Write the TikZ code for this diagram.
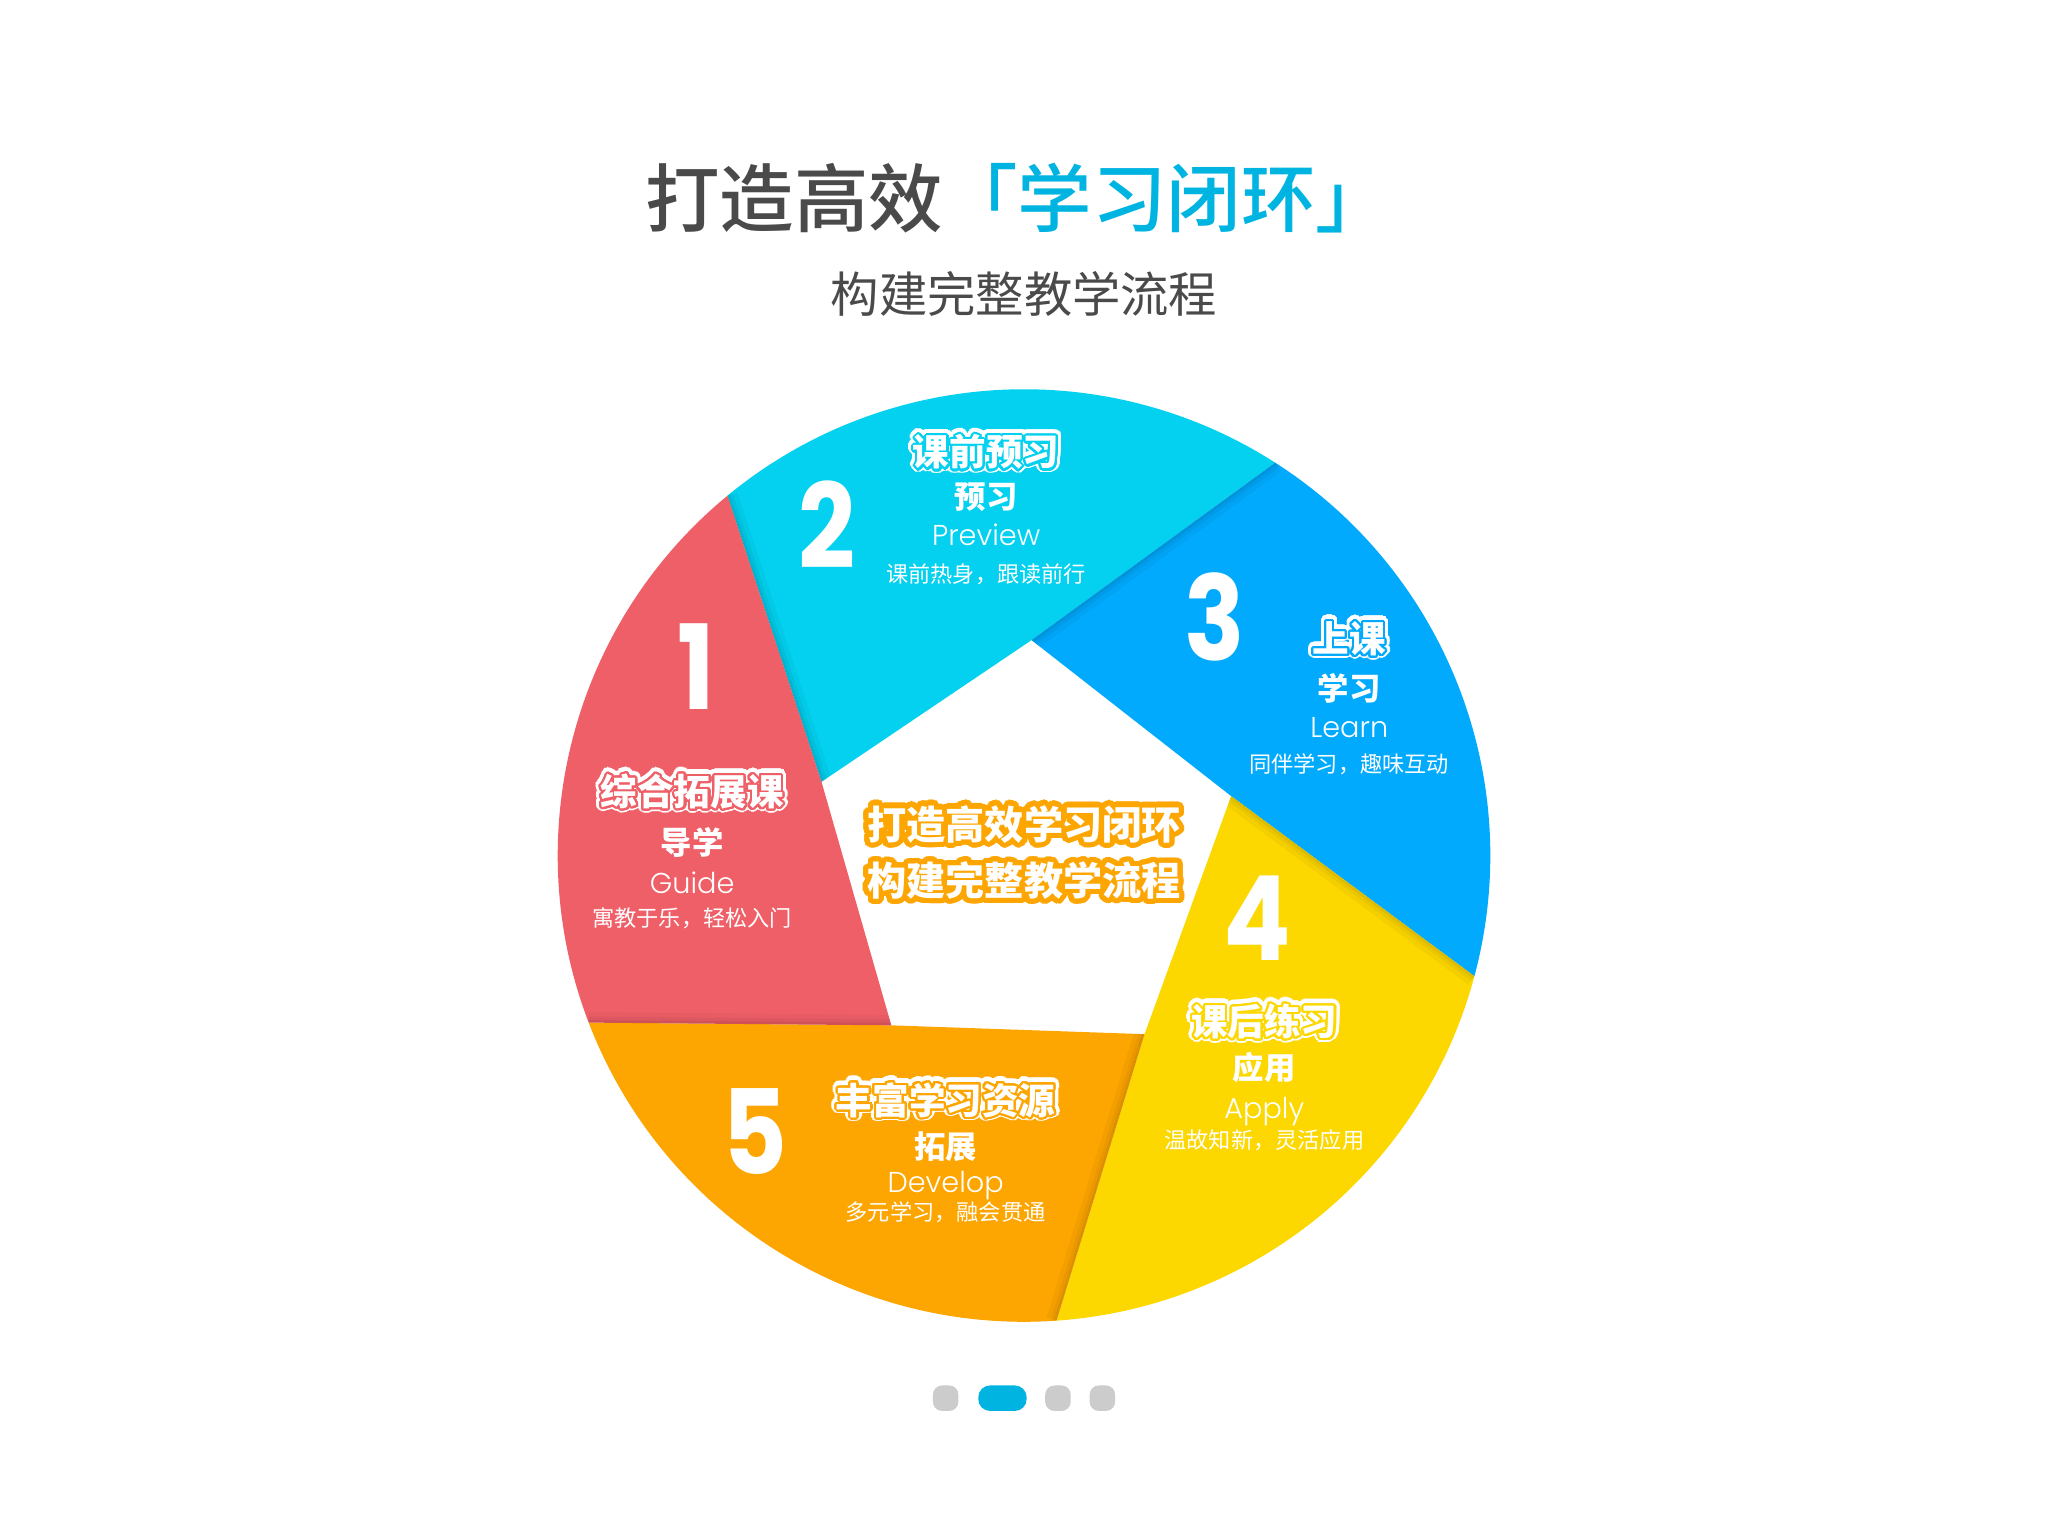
\documentclass[tikz,border=0pt]{standalone}
\usepackage{fontspec}
\setmainfont{Noto Sans CJK SC}
\newfontfamily\cjk{Noto Sans CJK SC}
\IfFontExistsTF{Noto Sans CJK SC Medium}
  {\newfontfamily\cjkmed{Noto Sans CJK SC Medium}}
  {\newfontfamily\cjkmed{Noto Sans CJK SC}[FakeBold=0.8]}
\newfontfamily\lat{Poppins}
\IfFontExistsTF{Poppins Light}
  {\newfontfamily\latlight{Poppins Light}}
  {\newfontfamily\latlight{Poppins}}
\usepackage{contour}
\contournumber{32}
\definecolor{segred}{HTML}{EF5F68}
\definecolor{segcyan}{HTML}{03D1EF}
\definecolor{segblue}{HTML}{02AAFD}
\definecolor{segyellow}{HTML}{FDD700}
\definecolor{segorange}{HTML}{FDA501}
\definecolor{titlegray}{HTML}{4A4A4A}
\definecolor{titlecyan}{HTML}{00B4E1}
\definecolor{dotgray}{HTML}{CCCCCC}
\tikzset{
  pcyan/.style={insert path={(160:165) -- (88:165) -- (57.4:357) arc[start angle=57.4,end angle=129.5,radius=357] -- cycle}},
  pblue/.style={insert path={(88:165) -- (16:165) -- (-15:357) arc[start angle=-15,end angle=57.4,radius=357] -- cycle}},
  pyellow/.style={insert path={(16:165) -- (-56:165) -- (-86:357) arc[start angle=-86,end angle=-15,radius=357] -- cycle}},
  porange/.style={insert path={(-56:165) -- (-128:165) -- (-159:357) arc[start angle=-159,end angle=-86,radius=357] -- cycle}},
  pred/.style={insert path={(-128:165) -- (-200:165) -- (-230.5:357) arc[start angle=-230.5,end angle=-159,radius=357] -- cycle}},
  shA/.style={line width=16, black, opacity=0.035, line cap=butt},
  shB/.style={line width=9, black, opacity=0.045, line cap=butt},
  shC/.style={line width=4, black, opacity=0.055, line cap=butt},
  ttl/.style={inner sep=0pt, font=\cjkmed\fontsize{57}{60}\selectfont},
  subttl/.style={inner sep=0pt, text=titlegray, font=\cjk\fontsize{37}{40}\selectfont},
  digit/.style={inner sep=0pt, text=white, font=\lat\bfseries\fontsize{90}{90}\selectfont},
  hd/.style={inner sep=0pt, text=white, font=\cjk\bfseries\fontsize{28}{30}\selectfont},
  line2/.style={inner sep=0pt, text=white, font=\cjk\bfseries\fontsize{24}{26}\selectfont},
  eng/.style={inner sep=0pt, anchor=base, text=white, font=\latlight\fontsize{22}{24}\selectfont},
  desc/.style={inner sep=0pt, text=white, font=\cjk\fontsize{17}{19}\selectfont},
  ctr/.style={inner sep=0pt, text=white, font=\cjk\bfseries\fontsize{30}{32}\selectfont},
  dotbox/.style={fill=dotgray, minimum width=19.5, minimum height=19.5, inner sep=0pt, rounded corners=7},
}
\newcommand\ringtext[4]{%
  \node[hd] (#1h) at #2 {\contourlength{4pt}\contour{white}{#4}};
  \node[hd] (#1) at #2 {\contourlength{1.6pt}\contour{#3}{#4}};
}
\newcommand\dg[1]{\scalebox{0.85}[1]{#1}}
\begin{document}
\begin{tikzpicture}[x=1pt,y=1pt]
\useasboundingbox (0,0) rectangle (1568,1176);
\fill[white] (0,0) rectangle (1568,1176);

% title
\node[ttl, anchor=west] (title) at (494,1024) {{\color{titlegray}打造高效}{\color{titlecyan}「学习闭环」}};
\node[subttl] (subtitle) at (784,951) {构建完整教学流程};

% wheel
\begin{scope}[shift={(784,521)}]
  \fill[segcyan][pcyan];
  \fill[segblue][pblue];
  \fill[segyellow][pyellow];
  \fill[segorange][porange];
  \fill[segred][pred];
  % shadows
  \begin{scope}\clip[pblue];
    \draw[shA] (88:165) -- (57.4:357); \draw[shB] (88:165) -- (57.4:357); \draw[shC] (88:165) -- (57.4:357);
  \end{scope}
  \begin{scope}\clip[pyellow];
    \draw[shA] (16:165) -- (-15:357); \draw[shB] (16:165) -- (-15:357); \draw[shC] (16:165) -- (-15:357);
  \end{scope}
  \begin{scope}\clip[porange];
    \draw[shA] (-56:165) -- (-86:357); \draw[shB] (-56:165) -- (-86:357); \draw[shC] (-56:165) -- (-86:357);
  \end{scope}
  \begin{scope}\clip[pred];
    \draw[shA] (-128:165) -- (-159:357); \draw[shB] (-128:165) -- (-159:357); \draw[shC] (-128:165) -- (-159:357);
  \end{scope}
  \begin{scope}\clip[pcyan];
    \draw[shA] (160:165) -- (129.5:357); \draw[shB] (160:165) -- (129.5:357); \draw[shC] (160:165) -- (129.5:357);
  \end{scope}
\end{scope}

% center text
\node[ctr] (c1) at (784,543) {\contourlength{4pt}\contour{segorange}{打造高效学习闭环}};
\node[ctr] (c2) at (784,500) {\contourlength{4pt}\contour{segorange}{构建完整教学流程}};

% segment 1
\node[digit] (n1) at (533,666) {\dg{1}};
\ringtext{h1}{(530,569)}{segred}{综合拓展课}
\node[line2] (l1) at (530,531) {导学};
\node[eng] (e1) at (530,492) {Guide};
\node[desc] (s1) at (530,473) {寓教于乐，轻松入门};

% segment 2
\node[digit] (n2) at (633,774) {\dg{2}};
\ringtext{h2}{(755,829)}{segcyan}{课前预习}
\node[line2] (l2) at (755,795) {预习};
\node[eng] (e2) at (755,758) {Preview};
\node[desc] (s2) at (755,736) {课前热身，跟读前行};

% segment 3
\node[digit] (n3) at (930,704) {\dg{3}};
\ringtext{h3}{(1033,686)}{segblue}{上课}
\node[line2] (l3) at (1033,649) {学习};
\node[eng] (e3) at (1033,611) {Learn};
\node[desc] (s3) at (1033,591) {同伴学习，趣味互动};

% segment 4
\node[digit] (n4) at (963,473) {\dg{4}};
\ringtext{h4}{(968,393)}{segyellow}{课后练习}
\node[line2] (l4) at (968,359) {应用};
\node[eng] (e4) at (968,320) {Apply};
\node[desc] (s4) at (968,303) {温故知新，灵活应用};

% segment 5
\node[digit] (n5) at (578,310) {\dg{5}};
\ringtext{h5}{(724,333)}{segorange}{丰富学习资源}
\node[line2] (l5) at (724,298) {拓展};
\node[eng] (e5) at (724,263) {Develop};
\node[desc] (s5) at (724,248) {多元学习，融会贯通};

% page dots
\node[dotbox] (d1) at (724,105.5) {};
\node[dotbox, fill=titlecyan, minimum width=37, rounded corners=9] (d2) at (767.5,105.5) {};
\node[dotbox] (d3) at (810,105.5) {};
\node[dotbox] (d4) at (844,105.5) {};
\end{tikzpicture}
\end{document}
